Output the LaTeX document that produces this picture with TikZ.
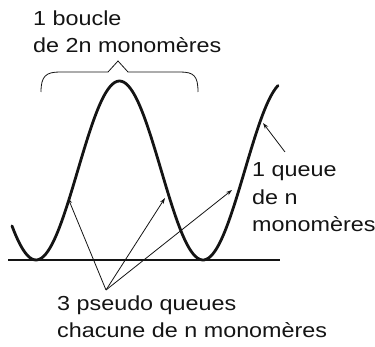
\documentclass[tikz,border=0pt]{standalone}
\usepackage{fontspec}
\setmainfont[FakeStretch=1.15]{Liberation Sans}
\usepackage{tikz}
\usetikzlibrary{calc,arrows.meta,positioning}
\definecolor{inkBlack}{RGB}{20,20,20}
\tikzset{
  chainLine/.style={draw=inkBlack,line width=2.8pt,line cap=round},
  groundLine/.style={draw=inkBlack,line width=2.6pt},
  braceLine/.style={draw=inkBlack,line width=.8pt},
  pointer/.style={draw=inkBlack,line width=.8pt,-{Stealth[length=6pt,width=4pt]}},
  legend/.style={inner sep=0pt,anchor=base west,align=left,font=\fontsize{20.3}{27.5}\selectfont,text=inkBlack}
}

\begin{document}
\begin{tikzpicture}[x=1pt,y=-1pt]
\useasboundingbox (0,0) rectangle (375,347);
% ground and chain
\draw[groundLine] (8,260) -- (280,260);
\draw[chainLine] plot[domain=12:278,samples=120,smooth] (\x,{170.5+89.5*cos((\x-36)/167*360)});
% brace over the loop
\draw[braceLine] (41,92) .. controls (41,76) and (46,72) .. (60,72) -- (108,72) -- (118,61) -- (128,72) -- (180,72) .. controls (194,72) and (198,76) .. (198,92);
% labels (anchored on their last line)
\node[legend] (loop) at (33,53) {1 boucle\\de 2n monomères};
\node[legend] (tail) at (252,232) {1 queue\\de n\\monomères};
\node[legend] (pseudo) at (57,338) {3 pseudo queues\\chacune de n monomères};
% arrow ends
\coordinate (tailStart) at (285,152);
\coordinate (tailTip) at (263,123);
\coordinate (pseudoStart) at (106,290);
\coordinate (pseudoTipA) at (68,198);
\coordinate (pseudoTipB) at (165,198);
\coordinate (pseudoTipC) at (232,190);
\draw[pointer] (tailStart) -- (tailTip);
\foreach \tip in {pseudoTipA,pseudoTipB,pseudoTipC}
  \draw[pointer] (pseudoStart) -- (\tip);
\end{tikzpicture}
\end{document}
